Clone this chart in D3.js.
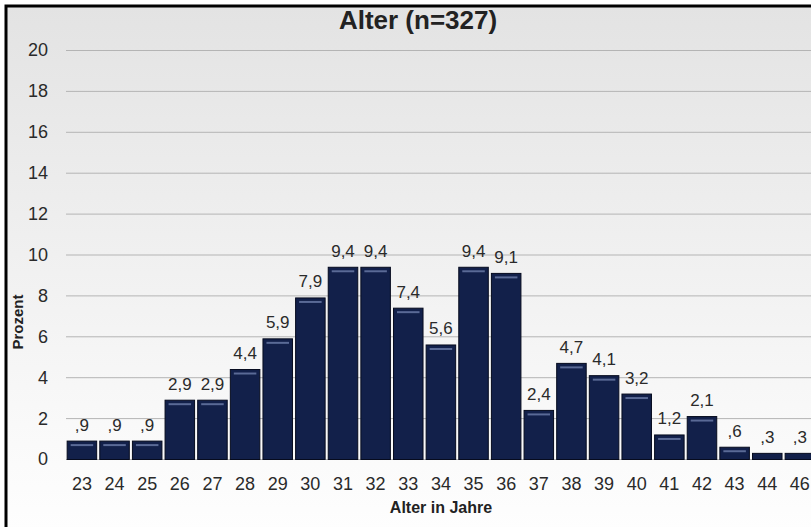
<!DOCTYPE html>
<html>
<head>
<meta charset="utf-8">
<script src="https://cdn.jsdelivr.net/npm/d3@7"></script>
<style>
  html, body { margin: 0; padding: 0; background: #fff; overflow: hidden; }
  svg { display: block; font-family: Arial, "Liberation Sans", sans-serif; }
</style>
</head>
<body>
<svg id="chart" width="811" height="527"></svg>
<script>
// Altersverteilung
var ages = ["23", "24", "25", "26", "27", "28", "29", "30", "31", "32", "33", "34",
            "35", "36", "37", "38", "39", "40", "41", "42", "43", "44", "46"];
var percent = [0.9, 0.9, 0.9, 2.9, 2.9, 4.4, 5.9, 7.9, 9.4, 9.4, 7.4, 5.6,
               9.4, 9.1, 2.4, 4.7, 4.1, 3.2, 1.2, 2.1, 0.6, 0.3, 0.3];
var yTicks = [0, 2, 4, 6, 8, 10, 12, 14, 16, 18, 20];
var title = "Alter (n=327)";
var xTitle = "Alter in Jahre";
var yTitle = "Prozent";

var svg = d3.select("#chart");
var W = 811, H = 527;

var defs = svg.append("defs");
var bg = defs.append("linearGradient").attr("id", "bg").attr("x1", 0).attr("y1", 0).attr("x2", 0).attr("y2", 1);
bg.append("stop").attr("offset", "0%").attr("stop-color", "#e3e3e3");
bg.append("stop").attr("offset", "80%").attr("stop-color", "#fafafa");
bg.append("stop").attr("offset", "100%").attr("stop-color", "#ffffff");

// frame, open to the right and bottom
svg.append("rect").attr("x", 6).attr("y", 6).attr("width", W + 20).attr("height", H + 20)
  .attr("fill", "url(#bg)").attr("stroke", "#000").attr("stroke-width", 3);

var x = d3.scaleBand().domain(ages).range([66, 66 + ages.length * 32.6])
  .paddingInner(0.065).paddingOuter(0.02);
var y = d3.scaleLinear().domain([0, 20]).range([459, 50]);

// gridlines
svg.append("g").selectAll("line").data(yTicks).enter().append("line")
  .attr("x1", 66).attr("x2", W)
  .attr("y1", function(d){ return y(d) + 0.5; })
  .attr("y2", function(d){ return y(d) + 0.5; })
  .attr("stroke", "#b4b4b4").attr("stroke-width", 1);

// y tick labels
svg.append("g").selectAll("text").data(yTicks).enter().append("text")
  .attr("x", 48).attr("y", function(d){ return y(d); })
  .attr("dy", "0.36em").attr("text-anchor", "end")
  .attr("font-size", 18).attr("fill", "#2a2a2a")
  .text(function(d){ return d; });

// bars
var fmt = function(v){ return String(v).replace(".", ",").replace(/^0,/, ","); };
var bars = svg.append("g").selectAll("g").data(ages).enter().append("g");
bars.append("rect")
  .attr("x", function(d){ return x(d) + 0.5; })
  .attr("y", function(d, i){ return y(percent[i]) + 0.5; })
  .attr("width", x.bandwidth() - 1)
  .attr("height", function(d, i){ return y(0) - y(percent[i]); })
  .attr("fill", "#12204a").attr("stroke", "#060b1e").attr("stroke-width", 1);
bars.filter(function(d, i){ return y(0) - y(percent[i]) > 9; }).append("line")
  .attr("x1", function(d){ return x(d) + 4; })
  .attr("x2", function(d){ return x(d) + x.bandwidth() - 4; })
  .attr("y1", function(d){ return y(percent[ages.indexOf(d)]) + 4.5; })
  .attr("y2", function(d){ return y(percent[ages.indexOf(d)]) + 4.5; })
  .attr("stroke", "#5a6a96").attr("stroke-width", 2);
bars.append("text")
  .attr("x", function(d){ return x(d) + x.bandwidth() / 2; })
  .attr("y", function(d, i){ return y(percent[i]) - 10; })
  .attr("text-anchor", "middle").attr("font-size", 17).attr("fill", "#2a2a2a")
  .text(function(d, i){ return fmt(percent[i]); });

// x tick labels
svg.append("g").selectAll("text").data(ages).enter().append("text")
  .attr("x", function(d){ return x(d) + x.bandwidth() / 2; })
  .attr("y", 490).attr("text-anchor", "middle")
  .attr("font-size", 18).attr("fill", "#2a2a2a")
  .text(function(d){ return d; });

// titles
svg.append("text").attr("x", 418).attr("y", 29).attr("text-anchor", "middle")
  .attr("font-size", 26).attr("font-weight", "bold").attr("fill", "#222").text(title);
svg.append("text").attr("x", 441).attr("y", 513).attr("text-anchor", "middle")
  .attr("font-size", 16).attr("font-weight", "bold").attr("fill", "#222").text(xTitle);
svg.append("text").attr("transform", "translate(23,322) rotate(-90)").attr("text-anchor", "middle")
  .attr("font-size", 15).attr("font-weight", "bold").attr("fill", "#222").text(yTitle);
</script>
</body>
</html>
